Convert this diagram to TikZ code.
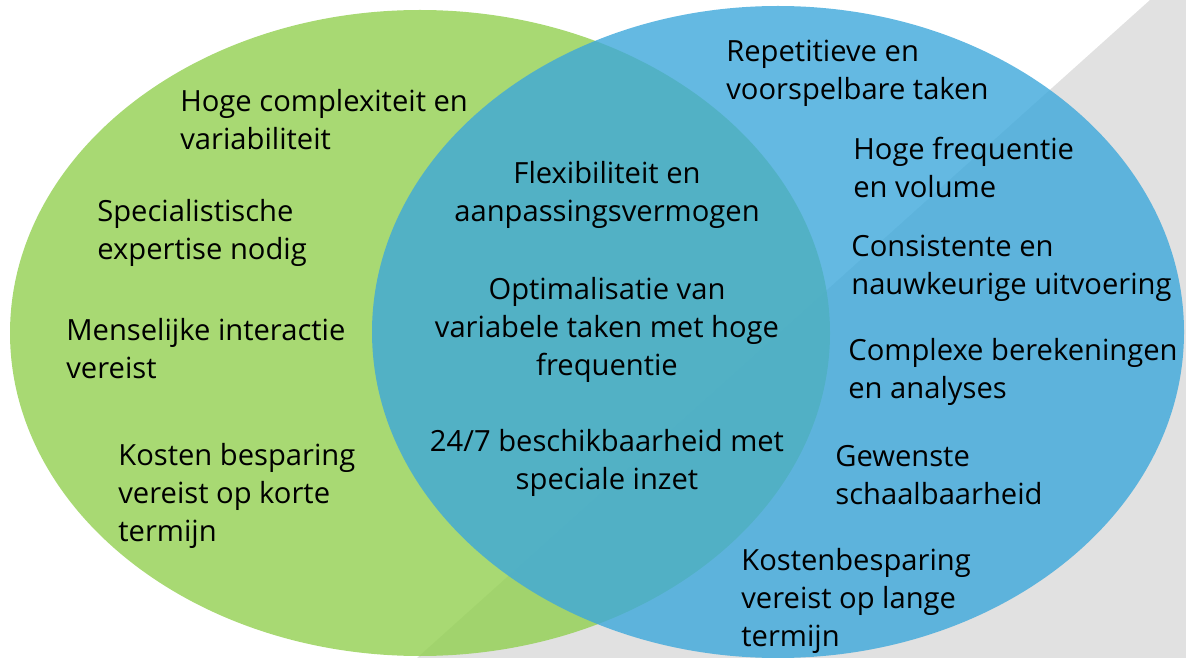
\documentclass[tikz,border=0pt]{standalone}
\usepackage{fontspec}
\setmainfont{Open Sans}

\definecolor{SetGreen}{RGB}{146,208,80}
\definecolor{SetBlue}{RGB}{61,168,219}
\definecolor{BandGray}{RGB}{225,225,225}

\begin{document}
\begin{tikzpicture}[x=0.02cm,y=-0.02cm]
  \tikzset{SetStyle/.style = {%
      fill opacity = .8,
      draw = none},
    LabelStyle/.style = {%
      inner sep = 0pt,
      font = \fontsize{16.6pt}{21.7pt}\selectfont,
      text = black},
    SideStyle/.style = {LabelStyle, anchor = north west, align = left},
    MidStyle/.style = {LabelStyle, anchor = north, align = center}}
  \useasboundingbox (0,0) rectangle (1186,658);
  % background band
  \fill[BandGray] (1150,0) -- (1186,0) -- (1186,658) -- (417,658) -- cycle;
  % the two sets
  \fill[SetStyle, SetGreen] (420,333) ellipse [x radius=410, y radius=323];
  \fill[SetStyle, SetBlue] (778,332) ellipse [x radius=406, y radius=326];
  % left set
  \node[SideStyle] (complex) at (180,89) {Hoge complexiteit en\\variabiliteit};
  \node[SideStyle] (expert) at (97,199) {Specialistische\\expertise nodig};
  \node[SideStyle] (human) at (66,318) {Menselijke interactie\\vereist};
  \node[SideStyle] (short) at (118,443) {Kosten besparing\\vereist op korte\\termijn};
  % overlap
  \node[MidStyle] (flex) at (607,161) {Flexibiliteit en\\aanpassingsvermogen};
  \node[MidStyle] (optim) at (607,277) {Optimalisatie van\\variabele taken met hoge\\frequentie};
  \node[MidStyle] (always) at (607,429) {24/7 beschikbaarheid met\\speciale inzet};
  % right set
  \node[SideStyle] (repeat) at (726,40) {Repetitieve en\\voorspelbare taken};
  \node[SideStyle] (volume) at (853,137) {Hoge frequentie\\en volume};
  \node[SideStyle] (exact) at (851,235) {Consistente en\\nauwkeurige uitvoering};
  \node[SideStyle] (calc) at (848,338) {Complexe berekeningen\\en analyses};
  \node[SideStyle] (scale) at (835,445) {Gewenste\\schaalbaarheid};
  \node[SideStyle] (long) at (741,548) {Kostenbesparing\\vereist op lange\\termijn};
\end{tikzpicture}
\end{document}
